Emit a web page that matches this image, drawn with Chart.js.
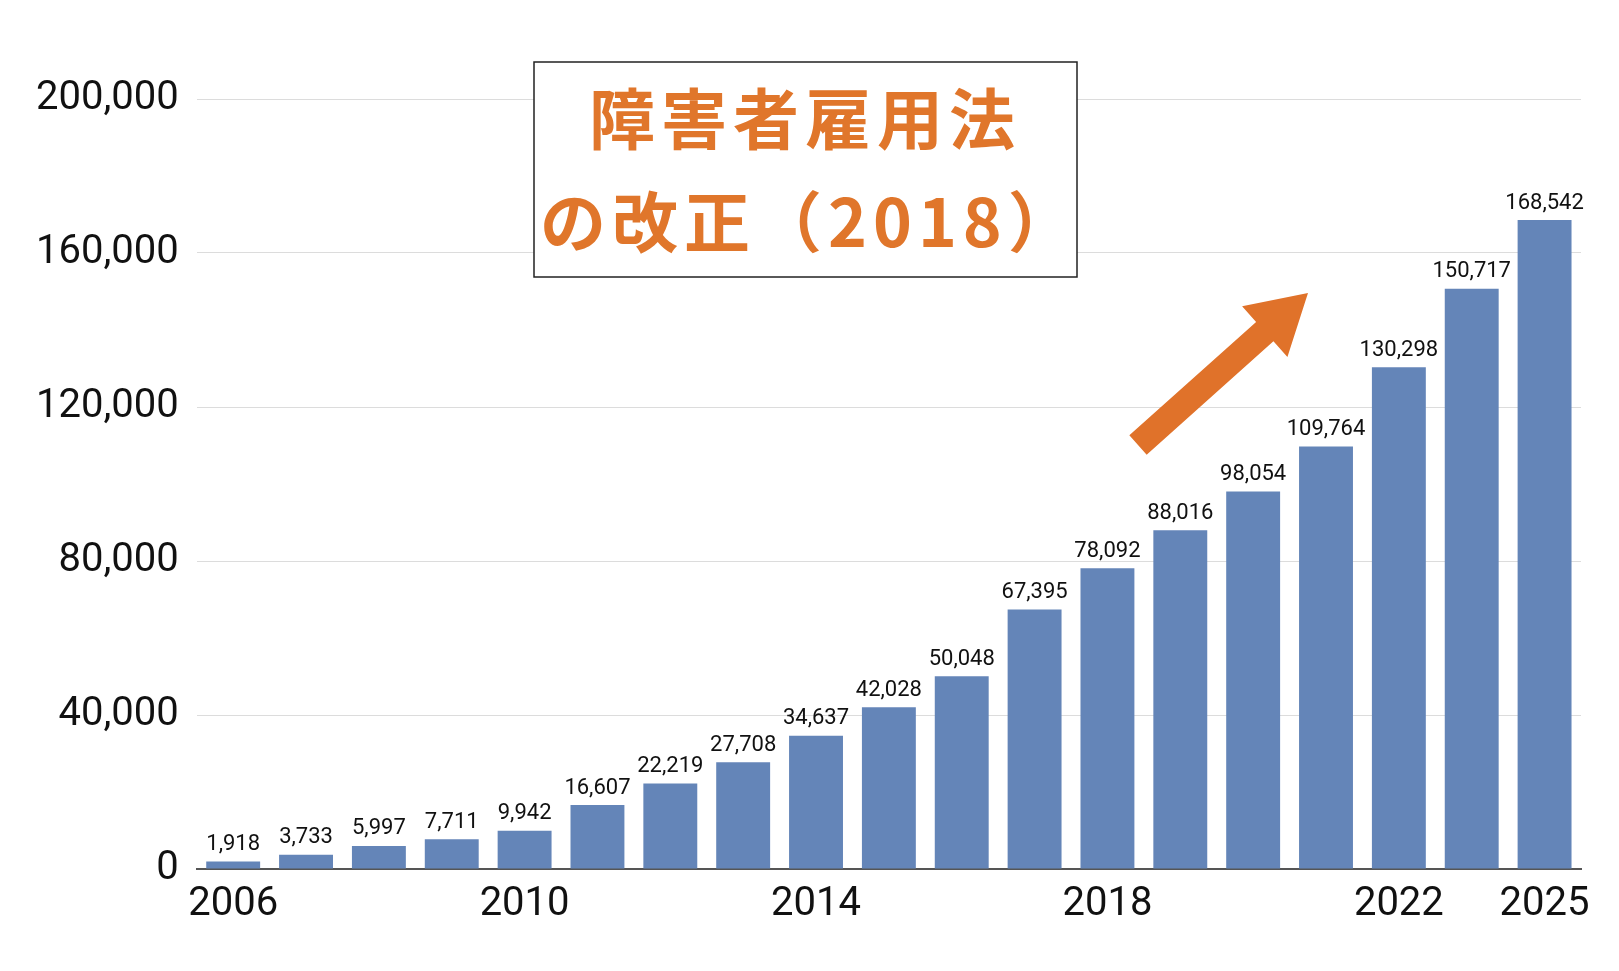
<!DOCTYPE html>
<html>
<head>
<meta charset="utf-8">
<script src="https://cdn.jsdelivr.net/npm/chart.js@4"></script>
<style>
  html, body { margin: 0; padding: 0; background: #fff; }
  #wrap { width: 1619px; height: 971px; }
</style>
</head>
<body>
<div id="wrap"><canvas id="chart"></canvas></div>
<script>
// Years and employment counts (19 bars, last one labelled 2025)
const years = ['2006','2007','2008','2009','2010','2011','2012','2013','2014','2015',
  '2016','2017','2018','2019','2020','2021','2022','2023','2025'];
const counts = [1918, 3733, 5997, 7711, 9942, 16607, 22219, 27708, 34637, 42028,
  50048, 67395, 78092, 88016, 98054, 109764, 130298, 150717, 168542];
const shownYears = ['2006', '2010', '2014', '2018', '2022', '2025'];
const yTicks = [0, 40000, 80000, 120000, 160000, 200000];

const fmt = n => n.toLocaleString('en-US');
const FONT = 'Roboto, "Noto Sans", sans-serif';

// Value labels above bars, annotation box and arrow
const overlay = {
  id: 'overlay',
  afterDatasetsDraw(chart) {
    const ctx = chart.ctx;
    const meta = chart.getDatasetMeta(0);
    ctx.save();
    ctx.fillStyle = '#111';
    ctx.font = '22px ' + FONT;
    ctx.textAlign = 'center';
    ctx.textBaseline = 'bottom';
    meta.data.forEach((bar, i) => {
      ctx.fillText(fmt(counts[i]), bar.x, bar.y - 6);
    });
    ctx.restore();
  },
  afterDraw(chart) {
    const ctx = chart.ctx;
    ctx.save();
    ctx.fillStyle = '#fff';
    ctx.fillRect(534, 62, 543, 215);
    ctx.strokeStyle = '#222';
    ctx.lineWidth = 1.5;
    ctx.strokeRect(534, 62, 543, 215);
    ctx.fillStyle = '#e0762b';
    ctx.font = 'bold 66px "Noto Sans CJK JP", sans-serif';
    ctx.letterSpacing = '6px';
    ctx.textAlign = 'center';
    ctx.textBaseline = 'middle';
    ctx.fillText('障害者雇用法', 805, 119);
    ctx.textAlign = 'left';
    ctx.fillText('の改正（2018）', 540, 222);
    // arrow
    ctx.fillStyle = '#e0722a';
    const x0 = 1138, y0 = 445, x1 = 1308, y1 = 293;
    ctx.translate(x0, y0);
    ctx.rotate(Math.atan2(y1 - y0, x1 - x0));
    const L = Math.hypot(x1 - x0, y1 - y0);
    ctx.beginPath();
    ctx.moveTo(0, -13);
    ctx.lineTo(L - 58, -13);
    ctx.lineTo(L - 58, -34);
    ctx.lineTo(L, 0);
    ctx.lineTo(L - 58, 34);
    ctx.lineTo(L - 58, 13);
    ctx.lineTo(0, 13);
    ctx.closePath();
    ctx.fill();
    ctx.restore();
  }
};

new Chart(document.getElementById('chart'), {
  type: 'bar',
  data: {
    labels: years,
    datasets: [{
      data: counts,
      backgroundColor: '#6485b8',
      barPercentage: 0.74,
      categoryPercentage: 1.0
    }]
  },
  options: {
    responsive: true,
    maintainAspectRatio: false,
    animation: false,
    layout: { padding: { left: 18, right: 38, top: 99, bottom: 30 } },
    plugins: { legend: { display: false }, tooltip: { enabled: false } },
    scales: {
      x: {
        grid: { display: false, drawTicks: false },
        border: { color: '#555', width: 2 },
        ticks: {
          autoSkip: false,
          maxRotation: 0,
          color: '#111',
          font: { family: FONT, size: 40 },
          padding: 12,
          callback: function(v) {
            const y = this.getLabelForValue(v);
            return shownYears.includes(y) ? y : '';
          }
        }
      },
      y: {
        min: 0,
        max: 200000,
        afterBuildTicks: axis => { axis.ticks = yTicks.map(v => ({ value: v })); },
        grid: { color: '#dcdcdc', drawTicks: false },
        border: { display: false },
        ticks: {
          color: '#111',
          font: { family: FONT, size: 40 },
          padding: 18,
          callback: v => fmt(v)
        }
      }
    }
  },
  plugins: [overlay]
});
</script>
</body>
</html>
